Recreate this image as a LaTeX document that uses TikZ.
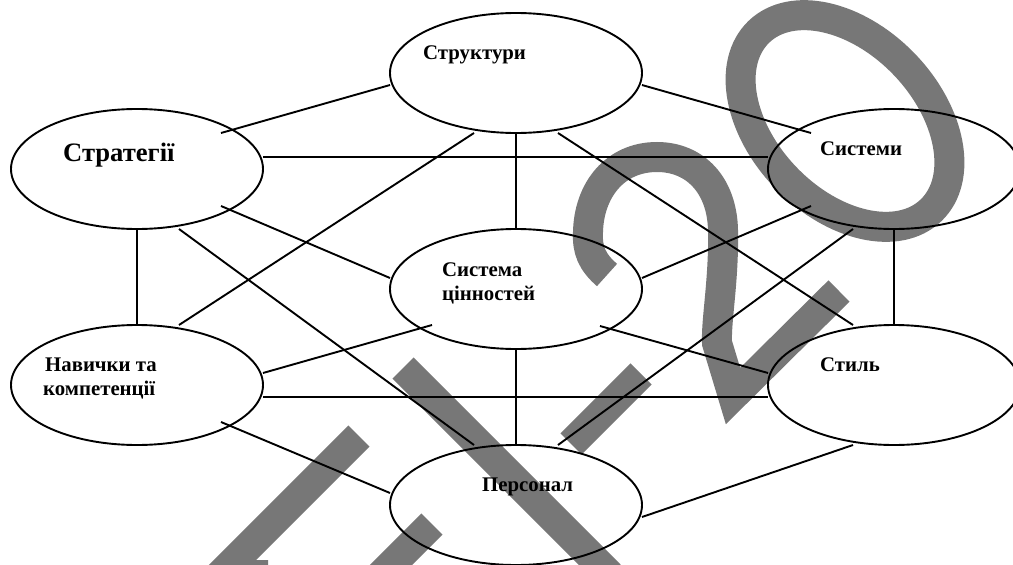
\documentclass[tikz,border=0pt]{standalone}
\usepackage{fontspec}
\setmainfont{Liberation Serif}
\usetikzlibrary{shapes.geometric}
\definecolor{wmgray}{RGB}{119,119,119}
\begin{document}
\begin{tikzpicture}[x=1pt,y=-1pt,
  oval/.style={draw, ellipse, line width=1.9pt, minimum width=252pt, minimum height=120pt, inner sep=0pt},
  link/.style={line width=1.9pt},
  lbl/.style={anchor=base west, inner sep=0pt, font=\bfseries\fontsize{20.8}{24}\selectfont},
  biglbl/.style={lbl, font=\bfseries\fontsize{26.6}{32}\selectfont},
  wm/.style={draw=wmgray, line width=30pt, line cap=butt, line join=miter}]
\useasboundingbox (0,0) rectangle (1013,565);
\clip (0,0) rectangle (1013,565);
\fill[white] (0,0) rectangle (1013,565);
% watermark strokes
\draw[wm] (607,275) .. controls (592,262) and (587,250) .. (588,232)
  .. controls (589,190) and (615,157) .. (657,157)
  .. controls (695,157) and (722,185) .. (723,230)
  .. controls (724,280) and (716,320) .. (717,343) -- (733,396) -- (839,291);
\draw[wm, rotate around={-46:(845,121)}] (845,121) ellipse [x radius=124, y radius=82];
\draw[wm] (403,368) -- (610,575);
\draw[wm] (359,436) -- (220,575) -- (268,575);
\draw[wm] (432,524) -- (375,581);
\draw[wm] (571,444) -- (641,374);
% ellipses
\node[oval] (str) at (516,73) {};
\node[oval] (strat) at (137,169) {};
\node[oval] (sys) at (894,169) {};
\node[oval] (val) at (516,289) {};
\node[oval] (skl) at (137,385) {};
\node[oval] (sty) at (894,385) {};
\node[oval] (per) at (516,505) {};
% links
\draw[link] ([shift={(84,-36)}]strat.center) -- ([shift={(-126,12)}]str.center);
\draw[link] ([shift={(126,-12)}]strat.center) -- ([shift={(-126,-12)}]sys.center);
\draw[link] ([shift={(84,37)}]strat.center) -- ([shift={(-126,-11)}]val.center);
\draw[link] ([shift={(0,60)}]strat.center) -- ([shift={(0,-60)}]skl.center);
\draw[link] ([shift={(42,60)}]strat.center) -- ([shift={(-42,-60)}]per.center);
\draw[link] ([shift={(-42,60)}]str.center) -- ([shift={(42,-60)}]skl.center);
\draw[link] ([shift={(0,60)}]str.center) -- ([shift={(0,-60)}]val.center);
\draw[link] ([shift={(126,12)}]str.center) -- ([shift={(-83,-36)}]sys.center);
\draw[link] ([shift={(42,60)}]str.center) -- ([shift={(-41,-60)}]sty.center);
\draw[link] ([shift={(-83,37)}]sys.center) -- ([shift={(126,-11)}]val.center);
\draw[link] ([shift={(-41,60)}]sys.center) -- ([shift={(42,-60)}]per.center);
\draw[link] ([shift={(0,60)}]sys.center) -- ([shift={(0,-60)}]sty.center);
\draw[link] ([shift={(-84,36)}]val.center) -- ([shift={(126,-12)}]skl.center);
\draw[link] ([shift={(126,12)}]skl.center) -- ([shift={(-126,12)}]sty.center);
\draw[link] ([shift={(84,37)}]val.center) -- ([shift={(-126,-12)}]sty.center);
\draw[link] ([shift={(0,60)}]val.center) -- ([shift={(0,-60)}]per.center);
\draw[link] ([shift={(84,37)}]skl.center) -- ([shift={(-126,-12)}]per.center);
\draw[link] ([shift={(-41,60)}]sty.center) -- ([shift={(126,12)}]per.center);
% labels
\node[lbl] (tstr) at (423,59) {Структури};
\node[biglbl] (tstrat) at (63,161) {Стратегії};
\node[lbl] (tsys) at (820,155) {Системи};
\node[lbl] (tval1) at (442,276) {Система};
\node[lbl] (tval2) at (442,300) {цінностей};
\node[lbl] (tskl1) at (45,371) {Навички та};
\node[lbl] (tskl2) at (43,395) {компетенції};
\node[lbl] (tsty) at (820,371) {Стиль};
\node[lbl] (tper) at (482,491) {Персонал};
\end{tikzpicture}
\end{document}
